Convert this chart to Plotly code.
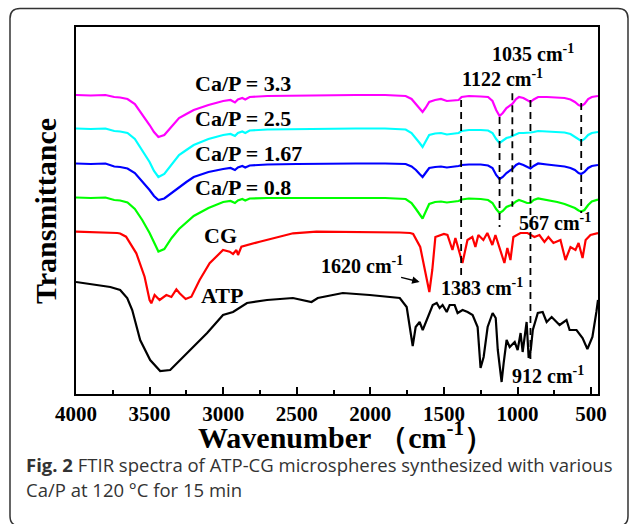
import plotly.graph_objects as go

# ---------------- data ----------------
# shared wavenumber grid for the four Ca/P spectra (cm^-1)
wn_cap = [4000, 3900, 3800, 3760, 3740, 3700, 3650, 3600, 3550, 3500,
          3470, 3440, 3400, 3350, 3300, 3250, 3200, 3100, 3000, 2950,
          2920, 2900, 2870, 2850, 2820, 2700, 2500, 2300, 2100, 1900,
          1760, 1720, 1690, 1665, 1645, 1625, 1600, 1560, 1520, 1480,
          1440, 1400, 1380, 1330, 1250, 1200, 1170, 1145, 1122, 1100,
          1075, 1050, 1035, 1010, 990, 960, 935, 912, 890, 860,
          800, 730, 680, 640, 610, 585, 567, 545, 520, 495,
          470, 453]

t_cap33 = [299, 298.5, 299, 297.5, 297, 296.5, 295, 290, 280, 269,
           262, 257, 259, 268, 276, 280, 284, 289, 293, 294,
           291.5, 294.5, 296, 294.5, 297, 298, 298.5, 299, 299, 299,
           298, 295, 290, 285, 282, 286, 292, 294, 295, 293,
           293.5, 294, 297, 298, 297.5, 297, 293, 284, 278, 281,
           286, 288, 290, 295, 297, 296, 294, 292, 294.5, 297,
           297, 296.5, 296, 294.5, 292, 289, 288, 290, 295, 297,
           297.5, 298]

t_cap25 = [265.5, 265, 265.5, 263.5, 263, 262.5, 261, 255, 244, 232,
           223, 217, 220, 230, 239, 244, 249, 255, 259, 260,
           258, 261, 262.5, 261, 263.5, 264.5, 265, 265.5, 265.5, 265.5,
           264.5, 261, 256, 251, 247, 252, 259, 260.5, 261, 259.5,
           260, 261, 263, 264, 264, 263.5, 261, 255, 251, 253,
           256, 257, 258, 260, 261, 261, 261, 261.5, 262, 263,
           262.5, 262, 261.5, 260, 257, 254, 253, 255, 259, 261,
           261.5, 262]

t_cap167 = [230.5, 230, 230.5, 228, 227.5, 227, 225.5, 221, 213, 204,
            198, 194, 195.5, 201, 207, 212, 217, 222, 225, 226,
            224, 226.5, 228, 226.5, 228.5, 229.5, 230, 230.5, 230.5, 230.5,
            230, 227.5, 224, 220, 217, 221, 226, 227, 227.5, 226.5,
            227, 228, 229, 229.5, 229.5, 228.5, 226, 219, 215, 217,
            221, 223, 225, 229, 230.5, 229, 227, 225.5, 228, 230.5,
            229.5, 228.5, 227.5, 226, 224, 221, 220, 222, 226, 228,
            228.5, 229]

t_cap08 = [196.5, 196, 196.5, 194.5, 194, 193.5, 191.5, 185, 174, 161,
           151, 142.5, 145, 156, 165, 172, 178, 186, 192, 193,
           191, 193.5, 195, 193.5, 195.5, 196, 196, 196.5, 196.5, 196,
           195, 191, 185, 179, 175.5, 182, 190, 192, 192.5, 191.5,
           192, 193, 194.5, 195.5, 195, 194, 191, 185, 181, 183,
           187, 188.5, 189.5, 192.5, 194, 192.5, 191, 191, 194, 195.5,
           194, 192, 190, 188, 186, 183.5, 182.5, 184, 189, 192.5,
           194, 194.5]

wn_cg = [4000, 3850, 3720, 3700, 3660, 3590, 3534, 3500, 3488, 3466,
         3432, 3386, 3352, 3318, 3296, 3255, 3216, 3160, 3092, 3001,
         2956, 2933, 2910, 2899, 2876, 2752, 2525, 2366, 2000, 1800,
         1729, 1709, 1661, 1630, 1613, 1599, 1579, 1558, 1500, 1476,
         1442, 1422, 1374, 1340, 1307, 1286, 1266, 1232, 1205, 1171,
         1150, 1103, 1089, 1069, 1048, 1028, 980, 932, 885, 851,
         817, 790, 756, 708, 674, 640, 606, 585, 558, 537,
         504, 453]
t_cg = [162.3, 162, 161, 160.5, 157.3, 140.7, 117.3, 94, 90.7, 99,
        94, 99, 97, 104.7, 100.7, 95, 97.3, 114, 130.7, 144,
        142.3, 140, 144, 139, 147.3, 152.3, 160.7, 162.3, 162, 161.5,
        161, 160, 147, 124, 114, 102, 124, 157, 160, 159,
        144, 156, 131, 154, 157, 147, 159, 154, 161, 149,
        159, 137, 131, 146, 134, 157, 161, 161, 157, 159,
        152, 157, 151, 154, 134, 147, 144, 151, 136, 154,
        159, 161]

wn_atp = [4000, 3900, 3767, 3700, 3652, 3618, 3564, 3496, 3428, 3360,
          3293, 3204, 3109, 3001, 2933, 2838, 2702, 2526, 2400, 2357,
          2187, 2004, 1800, 1753, 1732, 1712, 1692, 1665, 1644, 1610,
          1576, 1549, 1529, 1509, 1481, 1461, 1427, 1407, 1373, 1339,
          1305, 1271, 1251, 1230, 1203, 1169, 1148, 1134, 1108, 1094,
          1074, 1053, 1019, 999, 979, 965, 938, 924, 910, 896,
          862, 829, 802, 768, 714, 667, 646, 599, 558, 525,
          491, 464, 453]
t_atp = [112, 110, 107, 104, 96, 84, 54, 34, 23, 24,
         34, 47, 61, 79, 82, 91, 94, 96, 92, 96,
         101, 99, 96, 87, 67, 48, 67, 72, 64, 76,
         89, 91, 86, 89, 82, 89, 89, 81, 84, 82,
         79, 67, 26, 37, 67, 81, 76, 44, 12, 31,
         54, 47, 52, 44, 61, 42, 72, 36, 44, 64,
         81, 82, 72, 77, 69, 74, 64, 64, 56, 45,
         57, 82, 94]

series_names = ["Ca/P = 3.3", "Ca/P = 2.5", "Ca/P = 1.67", "Ca/P = 0.8", "CG", "ATP"]
series_colors = ["#ff00ff", "#00ffff", "#0000ff", "#00ff00", "#ff0000", "#000000"]

# marked bands (cm^-1) and the extent of their dashed guide lines (a.u.)
band_wn = [1383, 1122, 1035, 912, 567]
band_top = [294, 277, 300.7, 294, 291]
band_bottom = [117, 167, 187.3, 34, 181]

# ---------------- figure ----------------
SERIF = "Liberation Serif, Times New Roman, serif"
L, R, T, B = 76, 31, 27, 130
W, H = 629, 524
PW, PH = W - L - R, H - T - B


def px(xp):
    return (xp - L) / PW


def py(yp):
    return (T + PH - yp) / PH


fig = go.Figure()
xs = [wn_cap, wn_cap, wn_cap, wn_cap, wn_cg, wn_atp]
ys = [t_cap33, t_cap25, t_cap167, t_cap08, t_cg, t_atp]
for name, col, x, y in zip(series_names, series_colors, xs, ys):
    fig.add_trace(go.Scatter(x=x, y=y, mode="lines", name=name,
                             line=dict(color=col, width=2.2), hoverinfo="skip"))

for w, y0, y1 in zip(band_wn, band_top, band_bottom):
    fig.add_shape(type="line", xref="x", yref="y", x0=w, x1=w, y0=y0, y1=y1,
                  line=dict(color="black", width=1.8, dash="7px,5px"))

lab_font = dict(family=SERIF, size=22, color="black", weight="bold")
cm_font = dict(family=SERIF, size=20, color="black", weight="bold")

# curve labels
for name, yy in zip(series_names[:4], [311, 276, 241, 206.5]):
    fig.add_annotation(x=3204, y=yy, xref="x", yref="y", text=name, showarrow=False,
                       xanchor="left", yanchor="middle", font=lab_font)
fig.add_annotation(x=3021, y=159, xref="x", yref="y", text="CG", showarrow=False,
                   xanchor="center", yanchor="middle", font=lab_font)
fig.add_annotation(x=3011, y=98.5, xref="x", yref="y", text="ATP", showarrow=False,
                   xanchor="center", yanchor="middle", font=lab_font)

# band labels
band_labels = [("1035", 895, 338.5), ("1122", 1105, 313.5), ("567", 742, 169.5),
               ("1620", 2055, 126.5), ("1383", 1241, 104.5), ("912", 790, 16.5)]
for txt, xx, yy in band_labels:
    fig.add_annotation(x=xx, y=yy, xref="x", yref="y", text=f"{txt} cm<sup>-1</sup>",
                       showarrow=False, font=cm_font, yshift=3,
                       xanchor="center", yanchor="middle")

fig.add_annotation(x=1665, y=112, xref="x", yref="y", text="", showarrow=True,
                   ax=-20, ay=-5, arrowhead=2, arrowsize=1, arrowwidth=1.5,
                   arrowcolor="black")

# axis titles
fig.add_annotation(x=px(45), y=py(211), xref="paper", yref="paper", text="Transmittance",
                   textangle=-90, showarrow=False, xanchor="center", yanchor="middle",
                   font=dict(family=SERIF, size=30, color="black", weight="bold"))
fig.add_annotation(x=px(346), y=py(435), xref="paper", yref="paper",
                   text="Wavenumber （cm<sup>-1</sup>）", showarrow=False,
                   xanchor="center", yanchor="middle",
                   font=dict(family=SERIF, size=30, color="black", weight="bold"))

# caption
cap_font = dict(family="Open Sans, Noto Sans, sans-serif", size=18.5, color="#333333")
fig.add_annotation(x=px(24), y=py(464), xref="paper", yref="paper", xanchor="left",
                   yanchor="middle",
                   text="<b>Fig. 2</b> FTIR spectra of ATP-CG microspheres synthesized with various",
                   showarrow=False, font=cap_font)
fig.add_annotation(x=px(24), y=py(490), xref="paper", yref="paper", xanchor="left",
                   yanchor="middle",
                   text="Ca/P at 120 °C for 15 min", showarrow=False, font=cap_font)

# outer rounded frame
x0, x1, y0, y1, r = 10, 628, 8.5, 526, 10
pts = [("M", x0 + r, y0), ("L", x1 - r, y0), ("Q", x1, y0, x1, y0 + r), ("L", x1, y1 - r),
       ("Q", x1, y1, x1 - r, y1), ("L", x0 + r, y1), ("Q", x0, y1, x0, y1 - r),
       ("L", x0, y0 + r), ("Q", x0, y0, x0 + r, y0)]
path = ""
for p in pts:
    cmd = p[0]
    coords = p[1:]
    segs = []
    for i in range(0, len(coords), 2):
        segs.append(f"{px(coords[i]):.5f},{py(coords[i + 1]):.5f}")
    path += cmd + " ".join(segs) + " "
path += "Z"
fig.add_shape(type="path", xref="paper", yref="paper", path=path,
              line=dict(color="#333333", width=1.5), layer="above")

fig.update_layout(
    width=W, height=H, margin=dict(l=L, r=R, t=T, b=B),
    paper_bgcolor="white", plot_bgcolor="white", showlegend=False,
    xaxis=dict(range=[4000, 453], showgrid=False, zeroline=False,
               showline=True, linecolor="black", linewidth=2, mirror=True,
               ticks="inside", ticklen=7, tickwidth=2, tickcolor="black",
               tick0=0, dtick=500,
               minor=dict(ticks="inside", ticklen=4, tickwidth=2, dtick=250,
                          tickcolor="black", showgrid=False),
               tickfont=dict(family=SERIF, size=21, color="black", weight="bold")),
    yaxis=dict(range=[0, PH], showgrid=False, zeroline=False, showticklabels=False,
               showline=True, linecolor="black", linewidth=2, mirror=True, ticks=""),
)

fig.write_html("out.html")
